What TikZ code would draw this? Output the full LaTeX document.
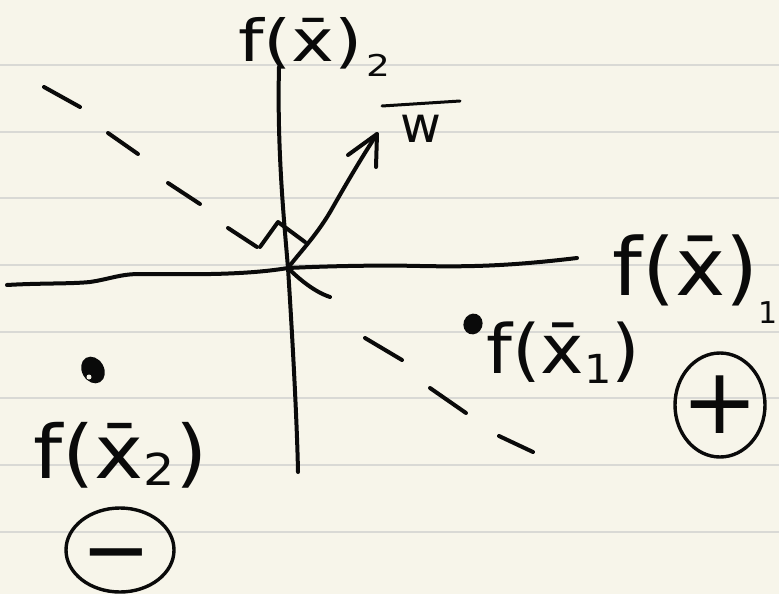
\documentclass[tikz,border=0pt]{standalone}
\usepackage{fontspec}
\setmainfont{DejaVu Sans}
\usetikzlibrary{shapes.geometric}
\definecolor{paper}{HTML}{F7F5EA}
\definecolor{ruleline}{HTML}{D9D9D5}
\definecolor{ink}{HTML}{0A0A0A}
\begin{document}
\begin{tikzpicture}[x=1pt,y=-1pt,
  pen/.style={draw=ink, line width=4pt, line cap=round, line join=round},
  lbl/.style={inner sep=0pt, text=ink},
  signbox/.style={ellipse, draw=ink, line width=3.4pt, inner sep=0pt, text=ink}]
\fill[paper] (0,0) rectangle (779,594);
\useasboundingbox (0,0) rectangle (779,594);
\foreach \yy in {65,132,198,265,332,398,465,532}
  \draw[ruleline, line width=2pt] (0,\yy) -- (779,\yy);

% axes
\coordinate (O) at (288,268);
\coordinate (ytop) at (279,67);
\coordinate (ybot) at (298,472);
\coordinate (xl) at (7,285);
\coordinate (xr) at (577,258);
\draw[pen] (ytop) .. controls (277,150) and (284,220) .. (O) .. controls (292,330) and (297,420) .. (ybot);
\draw[pen] (xl) .. controls (40,283) and (70,284) .. (90,282) .. controls (110,279) and (120,274) .. (140,274)
  .. controls (180,274) and (240,276) .. (O) .. controls (330,266) and (380,265) .. (420,266)
  .. controls (470,267) and (510,266) .. (xr);

% w vector
\coordinate (wtip) at (377,134);
\draw[pen] (O) .. controls (300,252) and (318,234) .. (333,207) .. controls (345,186) and (360,160) .. (wtip);
\draw[pen] (348,155) -- (wtip) -- (376,167);
% right-angle mark
\draw[pen] (260,247) -- (278,222) -- (305,242);

% dashed boundary
\draw[pen] (44,87) -- (80,107);
\draw[pen] (108,133) -- (138,154);
\draw[pen] (168,183) -- (200,204);
\draw[pen] (228,228) -- (257,247);
\draw[pen] (O) .. controls (300,280) and (315,292) .. (330,297);
\draw[pen] (365,338) -- (402,360);
\draw[pen] (430,388) -- (466,413);
\draw[pen] (499,436) -- (533,452);

% points
\fill[ink, rotate around={-20:(473,324)}] (473,324) ellipse (9.5 and 10.5);
\fill[ink, rotate around={30:(93,370)}] (93,370) ellipse (11 and 14);
\fill[paper] (89,377) circle (2.5);

% labels
\node[lbl, anchor=base west, font=\fontsize{58}{58}\selectfont] (ylab) at (238,62)
  {\scalebox{1.25}[1]{f(\={x})\kern0.05em\raisebox{-0.25em}{\fontsize{30}{30}\selectfont 2}}};
\node[lbl, anchor=base west, font=\fontsize{80}{80}\selectfont] (xlab) at (612,295)
  {\scalebox{1.06}[1]{f(\={x})}\raisebox{-0.35em}{\fontsize{30}{30}\selectfont 1}};
\node[lbl, anchor=base west, font=\fontsize{50}{50}\selectfont] (wlab) at (400,142) {w};
\draw[pen, line width=3pt] (382,106) -- (460,101);
\node[lbl, anchor=base west, font=\fontsize{68}{68}\selectfont] (p1lab) at (486,373)
  {\scalebox{1.08}[1]{f(\={x}\raisebox{-0.15em}{\fontsize{40}{40}\selectfont 1})}};
\node[lbl, anchor=base west, font=\fontsize{74}{74}\selectfont] (p2lab) at (33,478)
  {\scalebox{1.12}[1]{f(\={x}\raisebox{-0.1em}{\fontsize{44}{44}\selectfont 2})}};

% class signs
\node[signbox, minimum width=90pt, minimum height=104pt] (plus) at (720,405) {};
\node[lbl, font=\fontsize{92}{92}\selectfont] (plussign) at (plus.center) {+};
\node[signbox, minimum width=108pt, minimum height=84pt] (minus) at (120,550) {};
\node[lbl, font=\bfseries\fontsize{64}{64}\selectfont, anchor=base] (minussign) at (116,572) {\scalebox{1.3}[1]{−}};
\end{tikzpicture}
\end{document}
